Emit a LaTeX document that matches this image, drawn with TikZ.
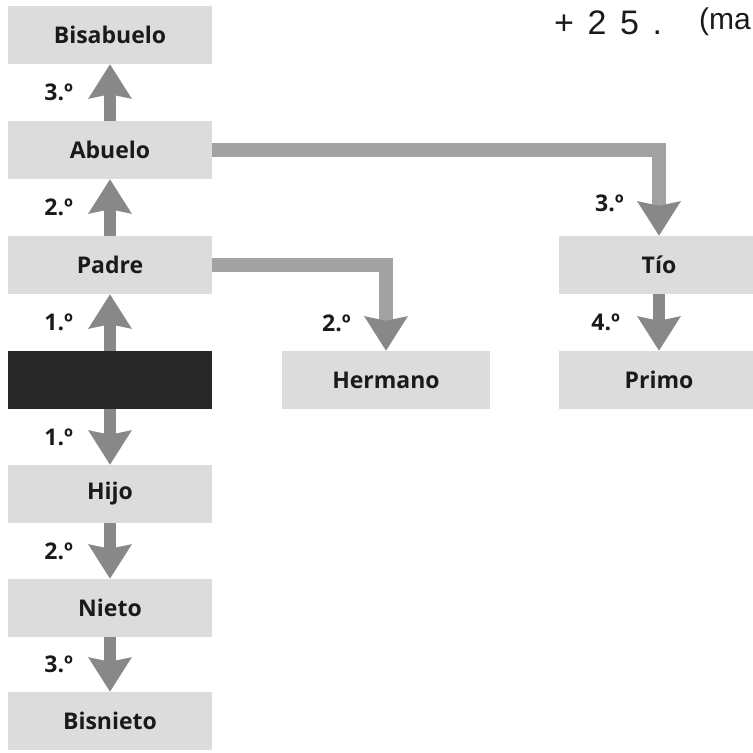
\documentclass[tikz,border=0pt]{standalone}
\usepackage{fontspec}
\setmainfont{Open Sans}
\newfontfamily\handfont{Liberation Sans}
\usetikzlibrary{arrows.meta}

\definecolor{boxgray}{HTML}{DCDCDC}
\definecolor{egoblack}{HTML}{272727}
\definecolor{arrowgray}{HTML}{888888}
\definecolor{bargray}{HTML}{A2A2A2}
\definecolor{inkgray}{HTML}{1A1A1A}

\begin{document}
\begin{tikzpicture}[x=1pt,y=-1pt,
  kinbox/.style={fill=boxgray, minimum height=58pt, inner sep=0pt,
    font=\fontsize{23}{26}\selectfont\bfseries, text=inkgray},
  leftbox/.style={kinbox, minimum width=204pt},
  egobox/.style={leftbox, fill=egoblack},
  link/.style={draw=arrowgray, line width=12pt,
    -{Stealth[width=42pt,length=34pt,inset=4pt]}},
  sidelink/.style={draw=bargray, line width=14pt, line join=miter,
    -{Stealth[width=42pt,length=34pt,inset=4pt,color=arrowgray,fill=arrowgray]}},
  degree/.style={font=\fontsize{23}{26}\selectfont\bfseries, text=inkgray,
    anchor=east, inner sep=0pt},
  hand/.style={font=\handfont\fontsize{34}{38}\selectfont, text=inkgray, inner sep=0pt}
]
\useasboundingbox (0,0) rectangle (753,753);

% generations in the direct line
\node[leftbox] (bisabuelo) at (110,35)  {Bisabuelo};
\node[leftbox] (abuelo)    at (110,150) {Abuelo};
\node[leftbox] (padre)     at (110,265) {Padre};
\node[egobox]  (ego)       at (110,380) {};
\node[leftbox] (hijo)      at (110,494) {Hijo};
\node[leftbox] (nieto)     at (110,608) {Nieto};
\node[leftbox] (bisnieto)  at (110,721) {Bisnieto};

% collateral relatives
\node[kinbox, minimum width=208pt] (hermano) at (386,380) {Hermano};
\node[kinbox, minimum width=200pt] (tio)     at (659,265) {Tío};
\node[kinbox, minimum width=200pt] (primo)   at (659,380) {Primo};

% ascending line
\draw[link] (abuelo.north) -- node[degree, midway, xshift=-31pt] {3.º} (bisabuelo.south);
\draw[link] (padre.north)  -- node[degree, midway, xshift=-31pt] {2.º} (abuelo.south);
\draw[link] (ego.north)    -- node[degree, midway, xshift=-31pt] {1.º} (padre.south);

% descending line
\draw[link] (ego.south)   -- node[degree, midway, xshift=-31pt] {1.º} (hijo.north);
\draw[link] (hijo.south)  -- node[degree, midway, xshift=-31pt] {2.º} (nieto.north);
\draw[link] (nieto.south) -- node[degree, midway, xshift=-31pt] {3.º} (bisnieto.north);

% collateral lines
\draw[sidelink] (padre.east) -| (hermano.north);
\node[degree] (deghermano) at (351,323) {2.º};
\draw[sidelink] (abuelo.east) -| (tio.north);
\node[degree] (degtio) at (624,203) {3.º};
\draw[link] (tio.south) -- node[degree, midway, xshift=-33pt] {4.º} (primo.north);

% pencil note in the corner
\node[hand, anchor=west] (note) at (554,23) {\addfontfeature{LetterSpace=40}+25.};
\node[hand, anchor=east, font=\handfont\fontsize{30}{34}\selectfont] (notecont) at (751,22) {(ma};
\end{tikzpicture}
\end{document}
